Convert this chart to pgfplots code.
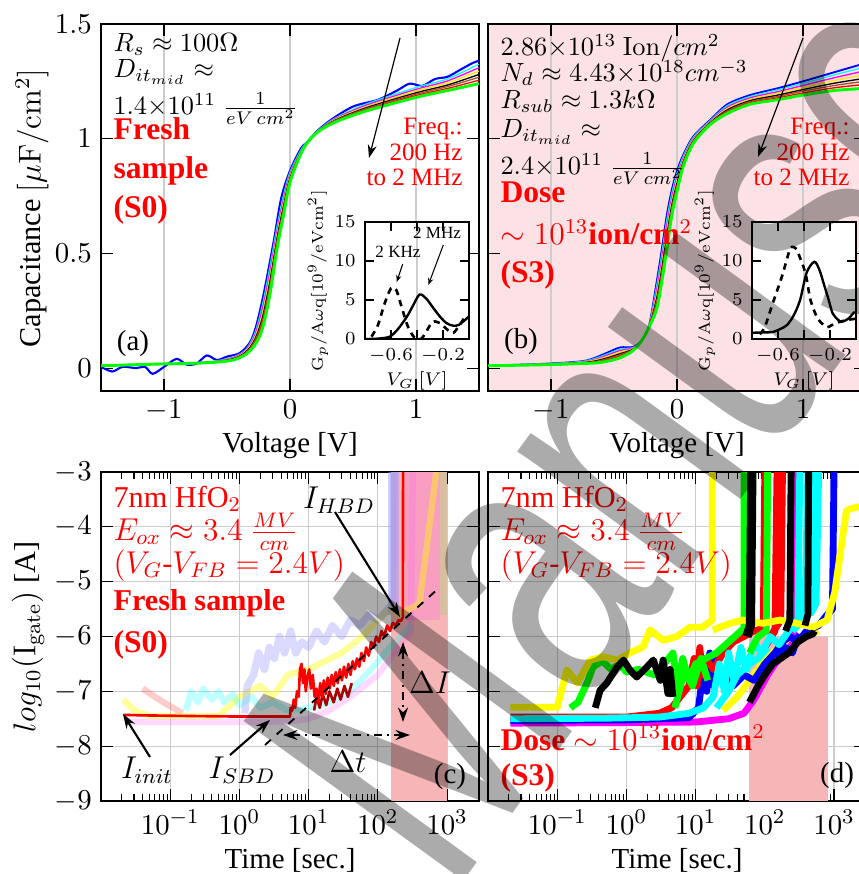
\documentclass[border=0pt]{standalone}
\usepackage[no-math]{fontspec}
\setmainfont{Liberation Serif}
\newfontfamily\wmfont{Liberation Sans}
\usepackage{graphicx}
\usepackage{pgfplots}
\pgfplotsset{compat=1.18}
\usepackage{pgfplotstable}
\usetikzlibrary{arrows.meta}

\definecolor{pinkbg}{RGB}{252,226,229}
\definecolor{shade}{RGB}{246,182,184}
\definecolor{cvbrown}{RGB}{160,82,45}
\definecolor{gridc}{RGB}{205,205,205}
\definecolor{dkred}{RGB}{175,0,0}
\definecolor{cCy}{RGB}{0,255,255}
\definecolor{cMa}{RGB}{255,0,255}
\definecolor{cYe}{RGB}{255,255,0}
\definecolor{cGr}{RGB}{0,255,0}
\definecolor{cBl}{RGB}{0,0,255}
\definecolor{cRd}{RGB}{255,0,0}
\definecolor{lav}{RGB}{150,150,255}
\newcommand{\fsz}[1]{\fontsize{#1}{#1}\selectfont}

\pgfplotsset{
  panel/.style={scale only axis, anchor=south west, width=143.64pt,
    tick align=inside, major tick length=4.5pt, minor tick length=2.6pt,
    tick style={black, line width=0.4pt}, axis line style={line width=0.6pt},
    tick label style={font=\fsz{11}}, grid style={gridc, line width=0.5pt}},
  inset/.style={scale only axis, anchor=south west, width=39.52pt, height=44.46pt,
    xmin=-0.8, xmax=0, ymin=0, ymax=15, xtick={-0.6,-0.2}, ytick={0,5,10,15},
    extra x ticks={-0.4}, extra x tick labels={}, extra x tick style={grid=major},
    tick align=inside, major tick length=3.5pt, tick style={black, line width=0.4pt},
    grid style={gridc, line width=0.5pt},
    axis background/.style={fill=white}, tick label style={font=\fsz{7}},
    xlabel={$V_G\ [V]$},
    xlabel style={font=\fsz{7}, at={(axis description cs:0.5,-0.36)}, anchor=center}},
  cv/.style={smooth, line width=0.5pt},
  trd/.style={line width=2.6pt, line join=round},
  fade/.style={line width=2.4pt, opacity=0.25, line join=round},
}

% C-V curves, fresh sample (a)
\pgfplotstableread{
V     cy    ma    ye    bk    br    rd    gr
-1.5  0.012 0.012 0.012 0.011 0.011 0.010 0.010
-1.2  0.016 0.016 0.015 0.015 0.015 0.015 0.015
-1.0  0.019 0.019 0.018 0.018 0.018 0.018 0.018
-0.8  0.022 0.022 0.021 0.021 0.020 0.020 0.020
-0.6  0.030 0.029 0.028 0.027 0.026 0.026 0.025
-0.45 0.048 0.046 0.043 0.041 0.039 0.037 0.035
-0.35 0.081 0.078 0.074 0.070 0.067 0.064 0.060
-0.28 0.151 0.142 0.133 0.124 0.117 0.109 0.100
-0.22 0.272 0.254 0.236 0.218 0.204 0.188 0.170
-0.16 0.439 0.418 0.397 0.376 0.359 0.341 0.320
-0.10 0.624 0.607 0.591 0.574 0.561 0.547 0.530
-0.05 0.755 0.740 0.725 0.710 0.698 0.685 0.670
0     0.853 0.845 0.838 0.830 0.824 0.818 0.810
0.1   0.963 0.960 0.958 0.956 0.954 0.952 0.950
0.2   1.024 1.023 1.022 1.022 1.021 1.021 1.020
0.35  1.087 1.084 1.081 1.078 1.076 1.073 1.070
0.6   1.150 1.145 1.139 1.134 1.130 1.125 1.120
1.0   1.223 1.215 1.208 1.200 1.194 1.188 1.180
1.25  1.261 1.252 1.243 1.234 1.227 1.219 1.210
1.5   1.325 1.310 1.295 1.280 1.268 1.255 1.240
}\cvA

% C-V curves, irradiated sample (b)
\pgfplotstableread{
V     bl    cy    ma    ye    bk    br    rd    gr
-1.5  0.010 0.010 0.010 0.010 0.010 0.010 0.010 0.010
-1.0  0.020 0.019 0.018 0.018 0.017 0.016 0.016 0.015
-0.75 0.030 0.029 0.027 0.026 0.024 0.023 0.022 0.020
-0.65 0.045 0.042 0.038 0.035 0.031 0.028 0.025 0.022
-0.55 0.068 0.062 0.057 0.051 0.045 0.041 0.036 0.030
-0.45 0.090 0.083 0.077 0.070 0.063 0.058 0.052 0.045
-0.35 0.092 0.089 0.087 0.084 0.082 0.080 0.078 0.075
-0.28 0.120 0.120 0.120 0.120 0.120 0.120 0.120 0.120
-0.22 0.190 0.189 0.187 0.186 0.184 0.183 0.182 0.180
-0.16 0.380 0.362 0.344 0.326 0.308 0.294 0.278 0.260
-0.12 0.520 0.499 0.478 0.457 0.436 0.419 0.401 0.380
-0.08 0.670 0.648 0.625 0.603 0.580 0.562 0.543 0.520
-0.04 0.780 0.764 0.747 0.731 0.714 0.701 0.687 0.670
0     0.860 0.847 0.833 0.820 0.806 0.795 0.784 0.770
0.05  0.930 0.923 0.915 0.908 0.900 0.894 0.888 0.880
0.13  1.010 1.006 1.001 0.997 0.992 0.988 0.985 0.980
0.26  1.080 1.077 1.074 1.071 1.068 1.066 1.063 1.060
0.4   1.150 1.144 1.138 1.132 1.126 1.121 1.116 1.110
0.58  1.190 1.184 1.178 1.172 1.166 1.161 1.156 1.150
0.8   1.220 1.213 1.205 1.198 1.190 1.184 1.178 1.170
1.0   1.250 1.241 1.232 1.223 1.214 1.207 1.199 1.190
1.25  1.290 1.278 1.266 1.254 1.242 1.232 1.222 1.210
1.5   1.330 1.314 1.297 1.281 1.264 1.251 1.237 1.220
}\cvB

\begin{document}
\begin{tikzpicture}
\useasboundingbox (0,0) rectangle (326.42pt,332.12pt);
\clip (0,0) rectangle (326.42pt,332.12pt);

% ---------- (a) ----------
\begin{axis}[panel, at={(38.38pt,183.54pt)}, height=139.46pt,
  xmin=-1.5, xmax=1.5, ymin=-0.1, ymax=1.5, xtick={-1,0,1}, ytick={0,0.5,1,1.5}, xmajorgrids]
  \addplot[cv, line width=0.8pt, cBl] coordinates {(-1.5,0.005) (-1.41,-0.015) (-1.33,0.005) (-1.22,0.0)
    (-1.15,0.005) (-1.09,-0.025) (-1.0,0.005) (-0.9,0.04) (-0.82,0.015) (-0.74,0.02) (-0.66,0.055)
    (-0.58,0.035) (-0.5,0.05) (-0.4,0.065) (-0.32,0.11) (-0.27,0.18) (-0.21,0.32) (-0.13,0.55)
    (-0.07,0.74) (0,0.86) (0.09,0.96) (0.15,0.99) (0.21,1.03) (0.32,1.08) (0.5,1.14) (0.7,1.17)
    (0.85,1.21) (0.95,1.24) (1.05,1.23) (1.15,1.26) (1.25,1.27) (1.35,1.3) (1.45,1.33) (1.5,1.34)};
  \addplot[cv, cCy] table[x=V, y=cy] {\cvA};
  \addplot[cv, cMa] table[x=V, y=ma] {\cvA};
  \addplot[cv, yellow!90!orange] table[x=V, y=ye] {\cvA};
  \addplot[cv, black] table[x=V, y=bk] {\cvA};
  \addplot[cv, cvbrown] table[x=V, y=br] {\cvA};
  \addplot[cv, cRd] table[x=V, y=rd] {\cvA};
  \addplot[cv, line width=1.1pt, cGr] table[x=V, y=gr] {\cvA};
\end{axis}
\begin{axis}[inset, at={(138.7pt,203.3pt)}]
  \addplot[line width=0.9pt, black, smooth] coordinates {(-0.8,0.0) (-0.7,0.05) (-0.61,0.3) (-0.55,1.2)
    (-0.48,2.8) (-0.43,4.3) (-0.38,5.7) (-0.33,5.2) (-0.28,4.1) (-0.22,2.8) (-0.17,2.0) (-0.12,1.7)
    (-0.08,1.8) (-0.04,2.3) (0,2.9)};
  \addplot[line width=1pt, black, dash pattern=on 2.4pt off 2pt, smooth] coordinates {(-0.75,0.3)
    (-0.7,1.8) (-0.65,4.5) (-0.6,6.5) (-0.56,6.3) (-0.52,4.2) (-0.47,1.6) (-0.42,0.2) (-0.37,0.0)
    (-0.33,0.9) (-0.28,2.2) (-0.22,2.0) (-0.16,1.1) (-0.12,0.8) (-0.08,1.6) (-0.04,2.6)};
\end{axis}

% ---------- (b) ----------
\begin{axis}[panel, at={(185.44pt,183.54pt)}, height=139.46pt,
  xmin=-1.5, xmax=1.5, ymin=-0.1, ymax=1.5, xtick={-1,0,1}, ytick={0,0.5,1,1.5},
  yticklabels={}, xmajorgrids, axis background/.style={fill=pinkbg}]
  \addplot[cv, line width=0.7pt, cBl] table[x=V, y=bl] {\cvB};
  \addplot[cv, cCy] table[x=V, y=cy] {\cvB};
  \addplot[cv, cMa] table[x=V, y=ma] {\cvB};
  \addplot[cv, yellow!90!orange] table[x=V, y=ye] {\cvB};
  \addplot[cv, black] table[x=V, y=bk] {\cvB};
  \addplot[cv, cvbrown] table[x=V, y=br] {\cvB};
  \addplot[cv, cRd] table[x=V, y=rd] {\cvB};
  \addplot[cv, line width=1.1pt, cGr] table[x=V, y=gr] {\cvB};
\end{axis}
\begin{axis}[inset, at={(285.76pt,203.3pt)}]
  \addplot[line width=0.9pt, black, smooth] coordinates {(-0.8,0.8) (-0.7,0.85) (-0.64,0.9) (-0.58,1.3)
    (-0.53,1.8) (-0.48,3.0) (-0.43,5.0) (-0.38,8.5) (-0.32,9.9) (-0.28,8.8) (-0.25,7.2) (-0.21,5.0)
    (-0.18,3.3) (-0.14,2.5) (-0.11,2.2) (-0.06,2.6) (-0.01,3.5)};
  \addplot[line width=1pt, black, dash pattern=on 2.4pt off 2pt, smooth] coordinates {(-0.74,0.6)
    (-0.7,1.6) (-0.64,4.6) (-0.57,8.0) (-0.51,11.4) (-0.48,11.8) (-0.45,11.2) (-0.39,8.5) (-0.35,5.0)
    (-0.3,2.8) (-0.25,1.8) (-0.22,1.5) (-0.16,2.0) (-0.08,2.4) (0,2.6)};
\end{axis}

% ---------- (c) ----------
\begin{axis}[panel, at={(38.38pt,27.74pt)}, height=125.02pt,
  xmode=log, xmin=0.01, xmax=2900, ymin=-9, ymax=-3,
  xtick={0.01,0.1,1,10,100,1000}, xticklabels={{},$10^{-1}$,$10^{0}$,$10^{1}$,$10^{2}$,$10^{3}$},
  ytick={-9,-8,-7,-6,-5,-4,-3}, grid=major]
  \addplot[draw=none, fill=shade] coordinates {(155,-9) (155,-3) (1000,-3) (1000,-9)} -- cycle;
  \addplot[draw=none, fill=lav, fill opacity=0.45] coordinates {(140,-5.6) (140,-3) (205,-3) (205,-5.6)} -- cycle;
  \addplot[draw=none, fill=cMa, fill opacity=0.13] coordinates {(250,-5.7) (250,-3) (800,-3) (800,-5.7)} -- cycle;
  \addplot[draw=none, fill=cGr, fill opacity=0.12] coordinates {(800,-5.6) (800,-3) (1000,-3) (1000,-5.6)} -- cycle;
  \addplot[fade, cMa!60] coordinates {(0.025,-7.56) (1,-7.56) (5,-7.55) (10,-7.5) (20,-7.35)
    (40,-7.1) (100,-6.7) (200,-6.2) (300,-5.9) (320,-3)};
  \addplot[fade, cRd!80] coordinates {(0.04,-6.95) (0.06,-7.1) (0.08,-7.2) (0.11,-7.3) (0.15,-7.4)};
  \addplot[fade, cYe, opacity=0.4] coordinates {(0.021,-7.15) (0.03,-7.35) (0.05,-7.45) (0.5,-7.45) (1,-7.1)
    (2,-6.9) (3,-7.1) (5,-6.7) (10,-6.6) (30,-6.3) (60,-6.0) (100,-5.7) (150,-5.5) (200,-5.6)
    (400,-5.4) (700,-3)};
  \addplot[fade, cCy] coordinates {(0.17,-7.35) (0.2,-7.0) (0.25,-7.2) (0.3,-6.95) (0.4,-7.15)
    (0.5,-7.0) (0.6,-7.2) (0.8,-7.05) (1,-7.25) (1.5,-7.1) (2,-7.3) (3,-7.2) (5,-7.35) (10,-7.3)
    (20,-7.2) (40,-7.0) (80,-6.6) (150,-6.2) (300,-5.8)};
  \addplot[fade, lav, opacity=0.35, line width=2.8pt] coordinates {(1.2,-7.4) (1.3,-6.9) (1.6,-6.7) (1.9,-6.3)
    (2.3,-6.6) (2.7,-6.2) (3.2,-6.4) (3.8,-6.0) (4.5,-6.3) (5.5,-5.9) (6.5,-6.3) (8,-6.1) (10,-6.2)
    (13,-5.9) (17,-6.1) (22,-5.8) (30,-6.0) (40,-5.7) (55,-5.8) (75,-5.6) (100,-5.7) (140,-5.5)
    (165,-5.4) (170,-3)};
  \addplot[line width=1pt, dkred, line join=round] coordinates {(12,-7.35) (13,-7.1) (14.5,-7.3) (16,-7.05)
    (18,-7.25) (20,-7.0) (23,-7.2) (26,-6.95) (29,-7.15) (33,-6.9) (37,-7.1) (42,-6.85)};
  \addplot[line width=1pt, cRd, line join=round] coordinates {(0.021,-7.43) (0.05,-7.44) (0.2,-7.45)
    (1,-7.46) (3,-7.46) (5.4,-7.46) (5.5,-7.3) (5.8,-7.35) (6.1,-7.15) (6.4,-7.3) (6.8,-7.0)
    (7.2,-7.1) (7.5,-6.6) (7.9,-6.5) (8.3,-6.85) (8.7,-6.6) (9.1,-7.0) (9.6,-6.75) (10.2,-6.6)
    (10.8,-6.95) (11.5,-6.7) (12.2,-7.1) (13,-6.95) (13.8,-7.2) (14.7,-6.85) (15.6,-7.1) (16.6,-6.8)
    (17.7,-7.05) (18.9,-6.75) (20.2,-6.95) (21.6,-6.7) (23.1,-6.9) (24.7,-6.65) (26.4,-6.85)
    (28.3,-6.6) (30.3,-6.8) (32.5,-6.55) (34.9,-6.75) (37.5,-6.5) (40.3,-6.7) (43.3,-6.45)
    (46.6,-6.6) (50,-6.4) (54,-6.55) (58,-6.3) (63,-6.45) (68,-6.2) (74,-6.35) (80,-6.1) (87,-6.2)
    (95,-6.0) (104,-6.1) (113,-5.9) (124,-6.0) (136,-5.8) (150,-5.9) (165,-5.75) (182,-5.8)
    (200,-5.7) (215,-5.72) (230,-5.65) (232,-3.0)};
\end{axis}

% ---------- (d) ----------
\begin{axis}[panel, at={(185.44pt,27.74pt)}, height=125.02pt, axis line style={line width=1.1pt},
  xmode=log, xmin=0.01, xmax=2900, ymin=-9, ymax=-3,
  xtick={0.01,0.1,1,10,100,1000}, xticklabels={{},$10^{-1}$,$10^{0}$,$10^{1}$,$10^{2}$,$10^{3}$},
  ytick={-9,-8,-7,-6,-5,-4,-3}, yticklabels={}, grid=major]
  \addplot[draw=none, fill=shade] coordinates {(59,-9) (59,-6) (810,-6) (810,-9)} -- cycle;
  \addplot[trd, cYe] coordinates {(25,-7.35) (40,-7.1) (60,-6.8) (90,-6.5) (130,-6.3) (200,-6.1)
    (350,-6.0) (600,-5.9)};
  \addplot[trd, cMa] coordinates {(0.021,-7.58) (1,-7.57) (10,-7.56) (30,-7.5) (50,-7.4) (70,-7.15)
    (90,-6.9) (110,-6.7) (140,-6.5) (180,-6.35) (230,-6.2) (260,-6.1) (270,-3.0)};
  \addplot[trd, cBl] coordinates {(0.021,-7.53) (1,-7.52) (8,-7.48) (11,-7.3) (13,-6.6) (14.5,-7.0)
    (16,-6.3) (18,-6.9) (20,-6.4) (23,-6.8) (28,-6.6) (35,-6.9) (50,-6.7) (70,-6.8) (100,-6.5)
    (140,-6.3) (180,-6.1) (230,-6.0) (300,-6.1) (400,-5.9) (600,-5.8) (800,-5.6) (950,-5.5) (1000,-3.0)};
  \addplot[trd, cBl] coordinates {(150,-6.4) (200,-6.2) (250,-6.3) (300,-6.0) (350,-6.1)};
  \addplot[trd, cRd] coordinates {(0.021,-7.47) (1,-7.47) (3,-7.4) (4.5,-7.3) (6,-7.1) (8,-6.9)
    (9.5,-6.4) (10.5,-6.9) (11.5,-6.2) (12.5,-6.7) (14,-6.4) (18,-6.6) (25,-6.3) (35,-6.1) (50,-6.0)
    (70,-5.9) (95,-5.85) (100,-3.0)};
  \addplot[trd, cRd] coordinates {(100,-6.2) (140,-5.9) (150,-3.0)};
  \addplot[trd, cRd] coordinates {(120,-6.0) (170,-5.7) (180,-3.0)};
  \addplot[trd, cCy] coordinates {(0.021,-7.5) (0.5,-7.49) (3,-7.47) (8,-7.4) (13,-7.3) (18,-7.1)
    (22,-6.5) (26,-7.0) (30,-6.3) (36,-6.8) (45,-6.2) (55,-6.6) (70,-6.1) (90,-6.3) (120,-6.0)
    (160,-6.15) (220,-5.9) (300,-5.7) (380,-5.55) (420,-3.0)};
  \addplot[trd, cCy] coordinates {(20,-7.3) (30,-7.0) (40,-6.7) (60,-6.5) (80,-6.4) (110,-6.2)};
  \addplot[trd, cCy] coordinates {(250,-5.9) (300,-5.8) (320,-3.0)};
  \addplot[trd, cCy] coordinates {(450,-5.6) (550,-5.4) (600,-3.0)};
  \addplot[trd, cCy] coordinates {(350,-5.7) (480,-5.5) (500,-3.0)};
  \addplot[trd, cGr] coordinates {(0.155,-7.3) (0.2,-7.2) (0.28,-6.8) (0.33,-6.55) (0.45,-6.45)
    (0.6,-6.6) (0.8,-6.5) (1,-6.65) (1.5,-6.6) (2.5,-6.7) (3.5,-6.5) (4.7,-6.3) (5.5,-6.9) (6.5,-6.4)
    (8,-6.8) (10,-6.5) (14,-6.4) (20,-6.3) (30,-6.1) (45,-5.9) (50,-5.85) (50,-3.0)};
  \addplot[trd, cGr] coordinates {(60,-6.3) (80,-6.0) (105,-5.9) (110,-3.0)};
  \addplot[trd, cGr] coordinates {(5,-7.3) (7,-6.6) (9,-6.9) (12,-6.4) (15,-6.8)};
  \addplot[trd, cYe] coordinates {(0.021,-7.29) (0.1,-7.29) (0.138,-6.61) (0.195,-6.85) (0.3,-6.43)
    (0.46,-6.37) (0.74,-6.43) (1.12,-6.3) (1.74,-6.19) (2.19,-5.88) (3.39,-6.07) (5.37,-6.0)
    (8.3,-5.83) (12.6,-5.83) (17.4,-5.7) (17.4,-3.0)};
  \addplot[trd, cYe] coordinates {(17.8,-5.88) (31.6,-5.76) (47.9,-5.7) (93,-5.76) (166,-5.7)
    (288,-5.76) (501,-5.83) (794,-5.7) (1023,-5.2) (1259,-4.4) (1514,-3.7) (1995,-3.65) (3162,-3.6)};
  \addplot[trd, black] coordinates {(0.355,-7.3) (0.417,-6.98) (0.52,-6.85) (0.74,-6.55) (0.91,-6.43)
    (1.12,-6.61) (1.41,-6.74) (2.0,-6.55) (2.45,-6.43) (3.09,-6.8) (3.39,-6.43) (3.98,-7.04)
    (4.3,-6.6) (4.7,-7.1)};
  \addplot[trd, black, line width=3.5pt] coordinates {(55,-6.0) (62,-5.8) (65,-3.0)};
  \addplot[trd, black] coordinates {(60,-7.2) (80,-6.9) (100,-6.7) (130,-6.5) (170,-6.4) (220,-6.3)
    (300,-6.1) (400,-6.0) (500,-5.95) (520,-5.9)};
  \addplot[trd, black] coordinates {(200,-5.9) (230,-5.7) (240,-3.0)};
  \addplot[trd, black] coordinates {(380,-5.8) (420,-5.6) (430,-3.0)};
\end{axis}

% ---------- labels and annotations (pixel frame, y downwards) ----------
\begin{scope}[x=0.38pt, y=-0.38pt, shift={(0pt,332.12pt)}]
  \node[rotate=90, font=\fsz{11.5}] at (32,208) {Capacitance $\left[\mu\mathrm{F}/\mathrm{cm}^2\right]$};
  \node[anchor=base, font=\fsz{11}] at (290,452) {Voltage [V]};
  \node[anchor=base, font=\fsz{11}] at (677,452) {Voltage [V]};
  \node[rotate=90, font=\fsz{11.5}] at (28,637) {$log_{10}(\mathrm{I}_{\mathrm{gate}})$ [A]};
  \node[anchor=base, font=\fsz{11}] at (290,868) {Time [sec.]};
  \node[anchor=base, font=\fsz{11}] at (677,868) {Time [sec.]};
  % inset y labels
  \node[rotate=90, font=\fsz{6.5}] at (318,281) {$\mathrm{G}_p/\mathrm{A}\omega\mathrm{q}[10^9/\mathrm{eVcm}^2]$};
  \node[rotate=90, font=\fsz{6.5}] at (705,281) {$\mathrm{G}_p/\mathrm{A}\omega\mathrm{q}[10^9/\mathrm{eVcm}^2]$};

  \begin{scope}[every node/.style={anchor=base west, inner sep=0pt}]
    % (a)
    \node[font=\fsz{10}] at (113,52) {$R_s \approx 100\Omega$};
    \node[font=\fsz{10}] at (113,78) {$D_{it_{mid}} \approx$};
    \node[font=\fsz{10}] at (113,115) {$1.4{\times}10^{11}\ \frac{1}{eV\,cm^2}$};
    \node[font=\fsz{12}\bfseries, red] at (113,140) {Fresh};
    \node[font=\fsz{12}\bfseries, red] at (113,179) {sample};
    \node[font=\fsz{12}\bfseries, red] at (113,218) {(S0)};
    % (b)
    \node[font=\fsz{10}] at (500,56) {$2.86{\times}10^{13}\ \mathrm{Ion}/cm^2$};
    \node[font=\fsz{10}] at (500,82) {$N_d \approx 4.43{\times}10^{18}cm^{-3}$};
    \node[font=\fsz{10}] at (500,109) {$R_{sub} \approx 1.3k\Omega$};
    \node[font=\fsz{10}] at (500,138) {$D_{it_{mid}} \approx$};
    \node[font=\fsz{10}] at (500,175) {$2.4{\times}10^{11}\ \frac{1}{eV\,cm^2}$};
    \node[font=\fsz{12}\bfseries, red] at (500,203) {Dose};
    \node[font=\fsz{12}, red] at (500,245) {$\sim 10^{13}$\textbf{ion/cm}$^2$};
    \node[font=\fsz{12}\bfseries, red] at (500,283) {(S3)};
    % (c)
    \node[font=\fsz{11.5}, red] at (113,507) {7nm HfO$_2$};
    \node[font=\fsz{11.5}, red] at (113,540) {$E_{ox} \approx 3.4\ \frac{MV}{cm}$};
    \node[font=\fsz{11.5}, red] at (113,573) {$(V_G$-$V_{FB} = 2.4V)$};
    \node[font=\fsz{11.5}\bfseries, red] at (113,610) {Fresh sample};
    \node[font=\fsz{12}\bfseries, red] at (113,652) {(S0)};
    % (d)
    \node[font=\fsz{11.5}, red] at (500,507) {7nm HfO$_2$};
    \node[font=\fsz{11.5}, red] at (500,540) {$E_{ox} \approx 3.4\ \frac{MV}{cm}$};
    \node[font=\fsz{11.5}, red] at (500,573) {$(V_G$-$V_{FB} = 2.4V)$};
    \node[font=\fsz{12}, red] at (500,750) {\textbf{Dose} $\sim 10^{13}$\textbf{ion/cm}$^2$};
    \node[font=\fsz{12}\bfseries, red] at (500,785) {(S3)};
  \end{scope}

  \node[font=\fsz{11}] at (133,344) {(a)};
  \node[font=\fsz{11}] at (521,342) {(b)};
  \node[font=\fsz{11}] at (450,777) {(c)};
  \node[font=\fsz{11}] at (837,776) {(d)};

  \node[anchor=east, align=right, red, font=\fontsize{9.5}{9.7}\selectfont, inner sep=0pt] at (463,152) {Freq.:\\200 Hz\\to 2 MHz};
  \node[anchor=east, align=right, red, font=\fontsize{9.5}{9.7}\selectfont, inner sep=0pt] at (850,152) {Freq.:\\200 Hz\\to 2 MHz};
  \draw[line width=0.45pt, -{Stealth[length=5pt, width=3.4pt]}] (400,38) -- (369,158);
  \draw[line width=0.45pt, -{Stealth[length=5pt, width=3.4pt]}] (803,38) -- (758,157);

  \node[font=\fsz{6.5}] at (398,252) {2 KHz};
  \node[font=\fsz{6.5}] at (437,233) {2 MHz};
  \draw[line width=0.4pt, -{Stealth[length=2.6pt, width=2pt]}] (402.7,264) -- (396.7,282);
  \draw[line width=0.4pt, -{Stealth[length=2.6pt, width=2pt]}] (443.3,245) -- (428.3,285);

  % (c) annotations
  \draw[line width=0.7pt, dashed] (265,745) -- (440,587);
  \node[font=\fsz{11.5}] at (339,500) {$I_{HBD}$};
  \draw[line width=0.8pt, -{Stealth[length=5.5pt, width=3.8pt]}] (335,512) -- (400,617);
  \node[font=\fsz{11.5}] at (147,770) {$I_{init}$};
  \draw[line width=0.8pt, -{Stealth[length=5.5pt, width=3.8pt]}] (150,757) -- (123,714);
  \node[font=\fsz{11.5}] at (242,770) {$I_{SBD}$};
  \draw[line width=0.8pt, -{Stealth[length=5.5pt, width=3.8pt]}] (230,755) -- (270,720);
  \draw[line width=0.8pt, dash dot, {Stealth[length=5.5pt, width=3.8pt]}-{Stealth[length=5.5pt, width=3.8pt]}] (283,735) -- (410,735);
  \node[font=\fsz{11.5}] at (348,762) {$\Delta t$};
  \draw[line width=0.8pt, dash dot, {Stealth[length=5.5pt, width=3.8pt]}-{Stealth[length=5.5pt, width=3.8pt]}] (403,642) -- (403,722);
  \node[font=\fsz{11.5}] at (430,683) {$\Delta I$};

  % watermark (condensed along its baseline)
  \node[rotate=54, anchor=base west, inner sep=0pt, text=black, text opacity=0.33,
    font=\wmfont\fontsize{150}{150}\selectfont] at (450,900) {\scalebox{0.7}[1]{Manuscript}};
\end{scope}
\end{tikzpicture}
\end{document}
